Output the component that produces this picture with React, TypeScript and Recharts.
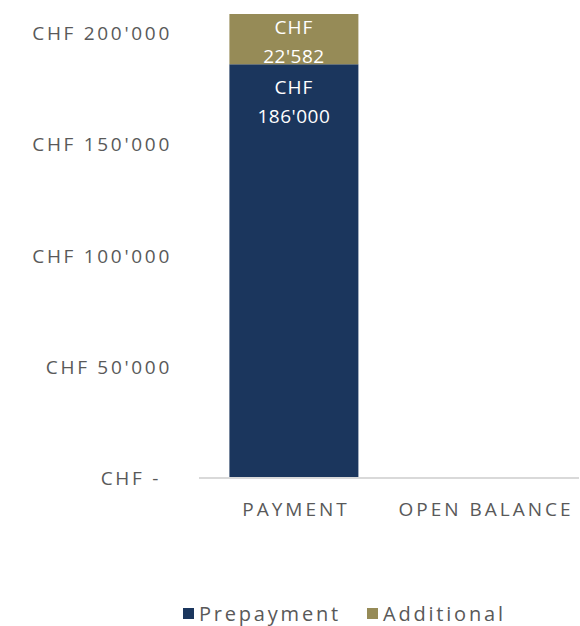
import React from 'react';
import { BarChart, Bar, XAxis, YAxis, LabelList } from 'recharts';

// ---------------------------------------------------------------------------
// Data
// ---------------------------------------------------------------------------

const CATEGORIES = ['PAYMENT', 'OPEN BALANCE'];
const PREPAYMENT = [186000, null];
const ADDITIONAL = [22582, null];
const Y_TICKS = [0, 50000, 100000, 150000, 200000];

const NAVY = '#1B365D';
const OLIVE = '#968B57';
const TEXT = '#595959';
const FONT = '"Open Sans", "DejaVu Sans", sans-serif';

const data = CATEGORIES.map((name, i) => ({
  name,
  prepayment: PREPAYMENT[i],
  additional: ADDITIONAL[i],
}));

// Swiss-style thousands separator
const fmt = (v: number) => String(v).replace(/\B(?=(\d{3})+(?!\d))/g, "'");

// ---------------------------------------------------------------------------
// Ticks & labels
// ---------------------------------------------------------------------------

function YTick({ x, y, payload }: any) {
  const v = payload.value;
  const label = v === 0 ? 'CHF -' : `CHF ${fmt(v)}`;
  return (
    <text
      x={v === 0 ? x - 30 : x - 19}
      y={y}
      textAnchor="end"
      dominantBaseline="central"
      fill={TEXT}
      fontSize={19}
      fontFamily={FONT}
      letterSpacing={2.7}
    >
      {label}
    </text>
  );
}

function XTick({ x, y, payload }: any) {
  return (
    <text
      x={x + 2}
      y={y + 23}
      textAnchor="middle"
      dominantBaseline="central"
      fill={TEXT}
      fontSize={19}
      fontFamily={FONT}
      letterSpacing={3}
    >
      {payload.value}
    </text>
  );
}

const makeLabel = (offset: number) => (props: any) => {
  const { x, y, width, value } = props;
  if (value == null) return null;
  const cx = x + width / 2;
  return (
    <g>
      <text x={cx} y={y + offset} textAnchor="middle" dominantBaseline="central"
        fill="#fff" fontSize={19} fontFamily={FONT} letterSpacing={1}>
        CHF
      </text>
      <text x={cx} y={y + offset + 29} textAnchor="middle" dominantBaseline="central"
        fill="#fff" fontSize={19} fontFamily={FONT} letterSpacing={0.5}>
        {fmt(value)}
      </text>
    </g>
  );
};

function LegendItem({ color, label }: { color: string; label: string }) {
  return (
    <span style={{ display: 'flex', alignItems: 'center', gap: 5 }}>
      <span style={{ width: 11, height: 11, background: color, display: 'inline-block' }} />
      <span style={{ fontSize: 20, color: TEXT, fontFamily: FONT, letterSpacing: 2.8 }}>{label}</span>
    </span>
  );
}

// ---------------------------------------------------------------------------
// Component
// ---------------------------------------------------------------------------

export default function App() {
  return (
    <div style={{ position: 'absolute', left: 0, top: 0, width: 580, height: 626, background: '#fff' }}>
      <BarChart
        width={580}
        height={560}
        data={data}
        margin={{ top: 14, right: 1, left: 0, bottom: 0 }}
        barCategoryGap="16%"
      >
        <XAxis
          dataKey="name"
          tick={<XTick />}
          tickLine={false}
          axisLine={{ stroke: '#D9D9D9', strokeWidth: 2 }}
          height={82}
          interval={0}
        />
        <YAxis
          width={199}
          domain={[0, 'dataMax']}
          ticks={Y_TICKS}
          tick={<YTick />}
          tickLine={false}
          axisLine={false}
        />
        <Bar dataKey="prepayment" stackId="a" fill={NAVY} isAnimationActive={false}>
          <LabelList dataKey="prepayment" content={makeLabel(23)} />
        </Bar>
        <Bar dataKey="additional" stackId="a" fill={OLIVE} isAnimationActive={false}>
          <LabelList dataKey="additional" content={makeLabel(13)} />
        </Bar>
      </BarChart>
      <div
        style={{
          position: 'absolute',
          top: 600,
          left: 183,
          display: 'flex',
          gap: 26,
        }}
      >
        <LegendItem color={NAVY} label="Prepayment" />
        <LegendItem color={OLIVE} label="Additional" />
      </div>
    </div>
  );
}
